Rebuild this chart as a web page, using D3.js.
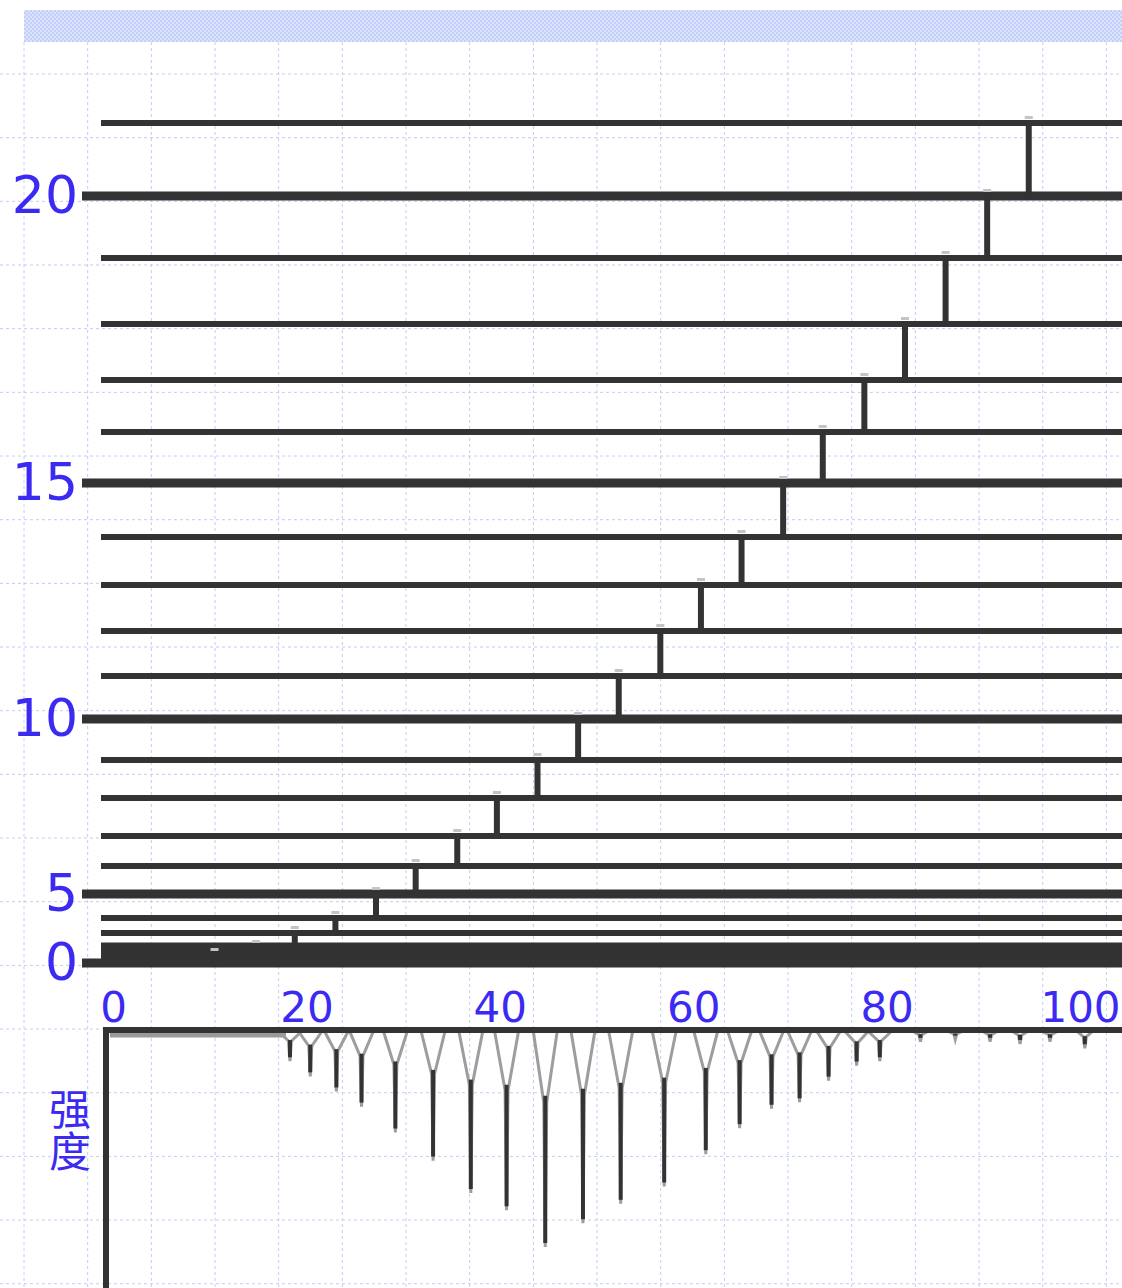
<!DOCTYPE html>
<meta charset="utf-8">
<head>
<title>rotational levels and spectrum</title>
<script src="https://d3js.org/d3.v7.min.js"></script>
<style>
  body { margin: 0; background: #fff; }
  svg { display: block; }
</style>
</head>
<body>
<div id="chart"></div>
<script>

// energy levels J = 0..21 (arbitrary energy units)
var levelJ = [0, 1, 2, 3, 4, 5, 6, 7, 8, 9, 10, 11, 12, 13, 14, 15, 16, 17, 18, 19, 20, 21];
var levelEnergy = [0, 8, 16, 30, 45, 69, 97, 127, 165, 203, 244, 287, 332, 378, 426, 480, 531, 583, 639, 705, 767, 840];

// transition position (x units) for J-1 -> J, J = 1..21
var transJ = [1, 2, 3, 4, 5, 6, 7, 8, 9, 10, 11, 12, 13, 14, 15, 16, 17, 18, 19, 20, 21];
var transPos = [10.5, 14.8, 18.8, 23.0, 27.2, 31.3, 35.6, 39.7, 43.9, 48.1, 52.3, 56.6, 60.8, 65.0, 69.3, 73.4, 77.7, 81.9, 86.1, 90.4, 94.7];

// spectrum peaks (position, relative intensity)
var peakPos = [18.3, 20.4, 23.1, 25.7, 29.2, 33.1, 37.0, 40.7, 44.7, 48.6, 52.5, 57.0, 61.3, 64.8, 68.1, 71.0, 74.0, 76.9, 79.3, 83.5, 87.1, 90.7, 93.8, 96.9, 100.5];
var peakInt = [14, 21, 28, 35, 47, 60, 75, 83, 100, 89, 80, 72, 57, 45, 36, 33, 23, 16, 14, 5, 4, 5, 6, 5, 8];

// tick labels
var yTickJ = [0, 5, 10, 15, 20];
var xTicks = [0, 20, 40, 60, 80, 100];
var yLabel = "强度";

var W = 1122, H = 1288;
var ink = "#333333", labelColor = "#3b2af2";

var svg = d3.select("#chart").append("svg")
    .attr("width", W)
    .attr("height", H);

// scales
var x = d3.scaleLinear().domain([0, 100]).range([113, 1080]);
var yE = d3.scaleLinear().domain([0, 840]).range([963, 123]);
var yI = d3.scaleLinear().domain([0, 100]).range([1031, 1247]);

// banner pattern
var defs = svg.append("defs");
var pat = defs.append("pattern")
    .attr("id", "checks")
    .attr("width", 4).attr("height", 4)
    .attr("patternUnits", "userSpaceOnUse");
pat.append("rect").attr("width", 4).attr("height", 4).style("fill", "#dbe3fc");
pat.append("rect").attr("width", 2).attr("height", 2).style("fill", "#c3d0fa");
pat.append("rect").attr("x", 2).attr("y", 2).attr("width", 2).attr("height", 2).style("fill", "#c3d0fa");

svg.append("rect")
    .attr("x", 24).attr("y", 10)
    .attr("width", W - 24).attr("height", 32)
    .style("fill", "url(#checks)");

// background grid
var step = 63.67;
var grid = svg.append("g").attr("class", "grid")
    .style("stroke", "#c2cdf6")
    .style("stroke-width", 1)
    .style("stroke-dasharray", "3,3");
grid.selectAll(".gv")
  .data(d3.range(24, W, step))
  .enter().append("line")
    .attr("x1", function(d) { return d; }).attr("x2", function(d) { return d; })
    .attr("y1", 42).attr("y2", H);
grid.selectAll(".gh")
  .data(d3.range(74, H, step))
  .enter().append("line")
    .attr("x1", 0).attr("x2", W)
    .attr("y1", function(d) { return d; }).attr("y2", function(d) { return d; });

// energy levels (lowest ones merge into one band, as in the original)
svg.append("g")
  .selectAll("line")
  .data(levelJ)
  .enter().append("line")
    .attr("x1", function(j) { return yTickJ.indexOf(j) >= 0 ? 82 : 101; })
    .attr("x2", W)
    .attr("y1", function(j) { return yE(levelEnergy[j]); })
    .attr("y2", function(j) { return yE(levelEnergy[j]); })
    .style("stroke", ink)
    .style("stroke-width", function(j) { return (yTickJ.indexOf(j) >= 0 || j < 3) ? 9 : 6; });

// transitions between neighbouring levels
var trans = svg.append("g");
trans.selectAll("line")
  .data(transJ)
  .enter().append("line")
    .attr("x1", function(j, i) { return x(transPos[i]); })
    .attr("x2", function(j, i) { return x(transPos[i]); })
    .attr("y1", function(j) { return yE(levelEnergy[j - 1]); })
    .attr("y2", function(j) { return yE(levelEnergy[j]) - 3; })
    .style("stroke", ink)
    .style("stroke-width", 6);
trans.selectAll("rect")
  .data(transJ)
  .enter().append("rect")
    .attr("x", function(j, i) { return x(transPos[i]) - 4; })
    .attr("y", function(j) { return yE(levelEnergy[j]) - 7; })
    .attr("width", 8).attr("height", 3)
    .style("fill", "#c4c4c4");

// J axis (left)
var yAxis = svg.append("g")
    .attr("transform", "translate(80,0)")
    .call(d3.axisLeft(yE)
      .tickValues(yTickJ.map(function(j) { return levelEnergy[j]; }))
      .tickFormat(function(e) { return levelJ[levelEnergy.indexOf(e)]; })
      .tickSize(0).tickPadding(2));
yAxis.select(".domain").remove();
yAxis.selectAll("text")
    .style("font-family", "DejaVu Sans")
    .style("font-size", "52px")
    .style("fill", labelColor);

// x axis labels
var xAxis = svg.append("g")
    .attr("transform", "translate(0,988)")
    .call(d3.axisBottom(x).tickValues(xTicks).tickSize(0).tickPadding(4));
xAxis.select(".domain").remove();
xAxis.selectAll("text")
    .style("font-family", "DejaVu Sans")
    .style("font-size", "42px")
    .style("fill", labelColor);

// spectrum: downward peaks
var spec = svg.append("g");
var arm = d3.line();
spec.append("line")
    .attr("x1", 110).attr("x2", x(peakPos[0]) - 4)
    .attr("y1", 1035).attr("y2", 1035)
    .style("stroke", "#9a9a9a").style("stroke-width", 5);
spec.selectAll(".arm")
  .data(peakPos)
  .enter().append("path")
    .attr("class", "arm")
    .attr("d", function(p, i) {
      var cx = x(p), tip = yI(peakInt[i]), mid = yI(peakInt[i] * 0.33);
      var hw = peakInt[i] > 10 ? 12 : 8;
      return arm([[cx - hw, yI(0)], [cx - 1.5, mid], [cx, tip], [cx + 1.5, mid], [cx + hw, yI(0)]]);
    })
    .style("fill", "none")
    .style("stroke", "#9d9d9d")
    .style("stroke-width", 3);
spec.selectAll(".stem")
  .data(peakPos)
  .enter().append("line")
    .attr("class", "stem")
    .attr("x1", function(p) { return x(p); })
    .attr("x2", function(p) { return x(p); })
    .attr("y1", function(p, i) { return yI(peakInt[i] * 0.3); })
    .attr("y2", function(p, i) { return yI(peakInt[i]) - 4; })
    .style("stroke", ink)
    .style("stroke-width", 4);

// spectrum frame
svg.append("line")
    .attr("x1", 103).attr("x2", W)
    .attr("y1", 1030).attr("y2", 1030)
    .style("stroke", ink).style("stroke-width", 6);
svg.append("line")
    .attr("x1", 106).attr("x2", 106)
    .attr("y1", 1027).attr("y2", H)
    .style("stroke", ink).style("stroke-width", 6);

// vertical intensity label
svg.append("text")
    .attr("x", 70)
    .attr("y", 1088)
    .style("writing-mode", "vertical-rl")
    .style("font-family", "Noto Sans CJK SC")
    .style("font-size", "42px")
    .style("fill", labelColor)
    .text(yLabel);

</script>
</body>
